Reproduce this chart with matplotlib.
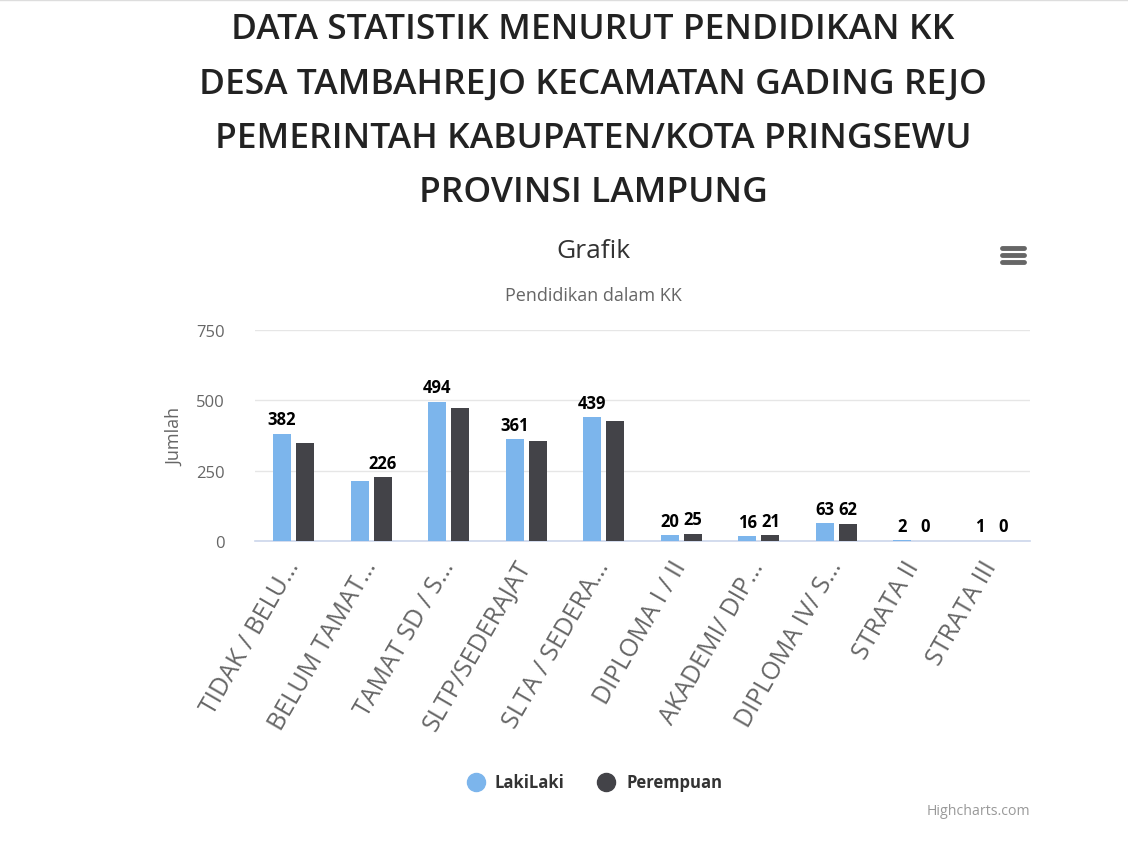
import matplotlib
matplotlib.use("Agg")
import matplotlib.pyplot as plt
import numpy as np

# data
categories = [
    "TIDAK / BELU…", "BELUM TAMAT…", "TAMAT SD / S…", "SLTP/SEDERAJAT",
    "SLTA / SEDERA…", "DIPLOMA I / II", "AKADEMI/ DIP…", "DIPLOMA IV/ S…",
    "STRATA II", "STRATA III",
]
laki = [382, 214, 494, 361, 439, 20, 16, 63, 2, 1]
perempuan = [349, 226, 473, 356, 427, 25, 21, 62, 0, 0]
# data labels hidden by overlap in the original
show_laki = [True, False, True, True, True, True, True, True, True, True]
show_perempuan = [False, True, False, False, False, True, True, True, True, True]
yticks = [0, 250, 500, 750]

title_lines = [
    "DATA STATISTIK MENURUT PENDIDIKAN KK",
    "DESA TAMBAHREJO KECAMATAN GADING REJO",
    "PEMERINTAH KABUPATEN/KOTA PRINGSEWU",
    "PROVINSI LAMPUNG",
]

plt.rcParams['font.family'] = ['Open Sans', 'DejaVu Sans']

W, H = 1128, 853
fig = plt.figure(figsize=(W / 100, H / 100), dpi=100, facecolor='white')

# plot area in pixels: x 255..1030, y 331..542
ax = fig.add_axes([255 / W, 1 - 542 / H, 775 / W, 211 / H])
ax.set_facecolor('white')

x = np.arange(len(categories))
bw = 0.235
c_laki = '#7cb5ec'
c_per = '#434348'
ax.bar(x - 0.15, laki, width=bw, color=c_laki, zorder=3)
ax.bar(x + 0.15, perempuan, width=bw, color=c_per, zorder=3)

for i in range(len(categories)):
    if show_laki[i]:
        ax.annotate(str(laki[i]), (x[i] - 0.15, laki[i]), xytext=(0, 4),
                    textcoords='offset points', ha='center', va='bottom',
                    fontsize=12, fontweight='bold', color='black')
    if show_perempuan[i]:
        ax.annotate(str(perempuan[i]), (x[i] + 0.15, perempuan[i]), xytext=(0, 4),
                    textcoords='offset points', ha='center', va='bottom',
                    fontsize=12, fontweight='bold', color='black')

ax.set_xlim(-0.5, len(categories) - 0.5)
ax.set_ylim(0, 750)
ax.set_yticks(yticks)
ax.set_yticklabels([str(t) for t in yticks], fontsize=12, color='#666666')
ax.grid(axis='y', color='#e6e6e6', linewidth=1, zorder=0)
ax.tick_params(axis='y', length=0, pad=22)
ax.tick_params(axis='x', length=0, pad=6)
ax.set_xticks(x)
ax.set_xticklabels(categories, rotation=60, ha='right', va='center',
                   rotation_mode='anchor', fontsize=18, color='#666666')
for lbl in ax.get_xticklabels():
    lbl.set_y(-0.06)
for s in ['top', 'right', 'left']:
    ax.spines[s].set_visible(False)
ax.spines['bottom'].set_color('#ccd6eb')
ax.spines['bottom'].set_linewidth(1.2)
ax.set_ylabel("Jumlah", fontsize=13, color='#666666', labelpad=8)

# titles
for k, line in enumerate(title_lines):
    fig.text(593 / W, 1 - (30 + 54.5 * k) / H, line, ha='center', va='center',
             fontsize=25.5, fontweight='semibold', color='#222222')
fig.text(593 / W, 1 - 251 / H, "Grafik", ha='center', va='center',
         fontsize=19, color='#333333')
fig.text(593 / W, 1 - 296 / H, "Pendidikan dalam KK", ha='center', va='center',
         fontsize=13, color='#666666')

# menu icon
for dy in (-7, 0, 7):
    fig.add_artist(plt.Line2D([1002 / W, 1024 / W], [1 - (256 + dy) / H] * 2,
                              color='#666666', linewidth=3.5, solid_capstyle='round'))

# legend
fig.add_artist(plt.Line2D([476 / W], [1 - 783 / H], marker='o', markersize=13,
                          color=c_laki, linestyle='none'))
fig.text(495 / W, 1 - 783 / H, "LakiLaki", ha='left', va='center',
         fontsize=12, fontweight='bold', color='#333333')
fig.add_artist(plt.Line2D([606 / W], [1 - 783 / H], marker='o', markersize=13,
                          color=c_per, linestyle='none'))
fig.text(626 / W, 1 - 783 / H, "Perempuan", ha='left', va='center',
         fontsize=12, fontweight='bold', color='#333333')

fig.text(1030 / W, 1 - 812 / H, "Highcharts.com", ha='right', va='center',
         fontsize=10.2, color='#999999')

# top border line
fig.add_artist(plt.Line2D([0, 1], [1 - 1 / H] * 2, color='#dddddd', linewidth=1))

fig.savefig("out.png", dpi=100, facecolor='white')
